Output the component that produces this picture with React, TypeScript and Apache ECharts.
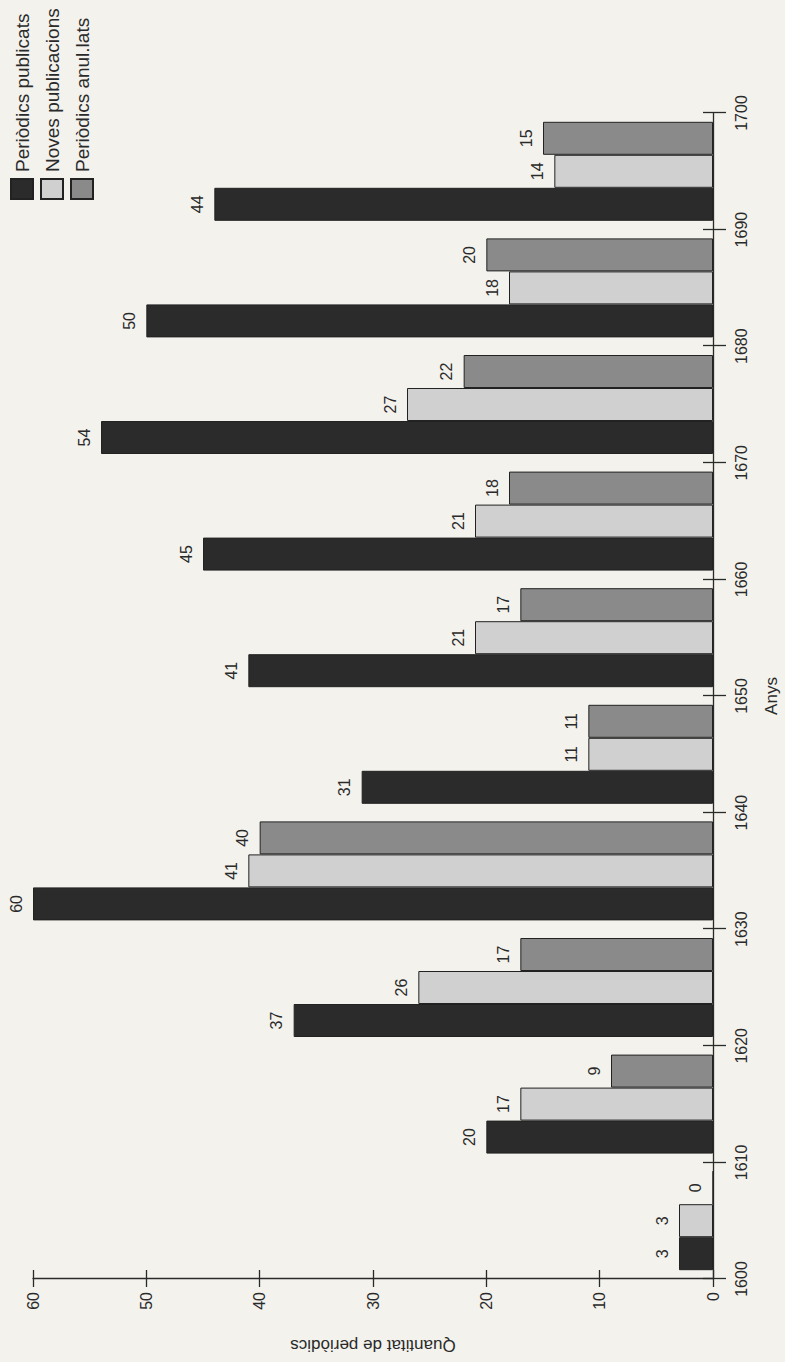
import React, { useEffect, useRef } from "react";
import * as echarts from "echarts";

const decades = [1600, 1610, 1620, 1630, 1640, 1650, 1660, 1670, 1680, 1690];
const publicats = [3, 20, 37, 60, 31, 41, 45, 54, 50, 44];
const noves = [3, 17, 26, 41, 11, 21, 21, 27, 18, 14];
const anullats = [0, 9, 17, 40, 11, 17, 18, 22, 20, 15];
const seriesNames = ["Periòdics publicats", "Noves publicacions", "Periòdics anul.lats"];
const seriesColors = ["#2b2b2b", "#d0d0d0", "#8a8a8a"];
const xName = "Anys";
const yName = "Quantitat de periòdics";

const FONT = "'Liberation Sans', Arial, Helvetica, sans-serif";
const INK = "#2a2a2a";

export default function App() {
  const ref = useRef<HTMLDivElement>(null);

  useEffect(() => {
    if (!ref.current) return;
    const chart = echarts.init(ref.current, undefined, { renderer: "svg" });
    const values = [publicats, noves, anullats];
    const series = values.map((vals, k) => ({
      name: seriesNames[k],
      type: "bar",
      xAxisIndex: 0,
      yAxisIndex: 0,
      barWidth: 33,
      barGap: "0%",
      data: decades.map((d, i) => [d + 5, vals[i]]),
      itemStyle: { color: seriesColors[k], borderColor: "#222", borderWidth: 1 },
      label: {
        show: true,
        position: "top",
        distance: 9,
        fontSize: 16,
        color: INK,
        fontFamily: FONT,
        formatter: (p: any) => String(p.value[1]),
      },
    }));

    chart.setOption({
      animation: false,
      backgroundColor: "#f3f2ed",
      textStyle: { fontFamily: FONT },
      grid: { left: 75, right: 113, top: 33, bottom: 67, containLabel: false },
      legend: {
        orient: "vertical",
        left: 1162,
        top: 10,
        padding: 0,
        itemWidth: 20,
        itemHeight: 22,
        itemGap: 6,
        icon: "rect",
        selectedMode: false,
        textStyle: { fontSize: 19, color: INK, fontFamily: FONT, padding: [0, 0, 0, 2] },
        data: seriesNames,
      },
      xAxis: [
        {
          type: "value",
          min: 1600,
          max: 1700,
          interval: 10,
          position: "bottom",
          name: xName,
          nameLocation: "middle",
          nameGap: 50,
          nameTextStyle: { fontSize: 17, color: INK, fontFamily: FONT },
          axisLine: { show: true, lineStyle: { color: INK, width: 1.3 } },
          axisTick: { show: true, inside: false, length: 13, lineStyle: { color: INK, width: 1.3 } },
          axisLabel: {
            fontSize: 16,
            color: INK,
            margin: 20,
            fontFamily: FONT,
            formatter: (v: number) => String(v),
          },
          splitLine: { show: false },
        },
        {
          type: "value",
          min: 1600,
          max: 1700,
          interval: 10,
          position: "bottom",
          axisLine: { show: false },
          axisTick: { show: true, inside: true, length: 10, lineStyle: { color: INK, width: 1.3 } },
          axisLabel: { show: false },
          splitLine: { show: false },
        },
      ],
      yAxis: [
        {
          type: "value",
          min: 0,
          max: 60,
          interval: 10,
          position: "left",
          name: yName,
          nameLocation: "middle",
          nameGap: 58,
          nameTextStyle: { fontSize: 17, color: INK, fontFamily: FONT },
          axisLine: { show: true, lineStyle: { color: INK, width: 1.3 } },
          axisTick: { show: true, inside: false, length: 8, lineStyle: { color: INK, width: 1.3 } },
          axisLabel: { fontSize: 16, color: INK, margin: 13, fontFamily: FONT },
          splitLine: { show: false },
        },
        {
          type: "value",
          min: 0,
          max: 60,
          interval: 10,
          position: "left",
          axisLine: { show: false },
          axisTick: { show: true, inside: true, length: 9, lineStyle: { color: INK, width: 1.3 } },
          axisLabel: { show: false },
          splitLine: { show: false },
        },
      ],
      series,
    });
    return () => chart.dispose();
  }, []);

  return (
    <div
      style={{
        position: "absolute",
        left: 0,
        top: 0,
        width: 785,
        height: 1362,
        overflow: "hidden",
        background: "#f3f2ed",
      }}
    >
      <div
        ref={ref}
        style={{
          position: "absolute",
          left: 0,
          top: 1362,
          width: 1362,
          height: 785,
          transform: "rotate(-90deg)",
          transformOrigin: "0 0",
        }}
      />
    </div>
  );
}
